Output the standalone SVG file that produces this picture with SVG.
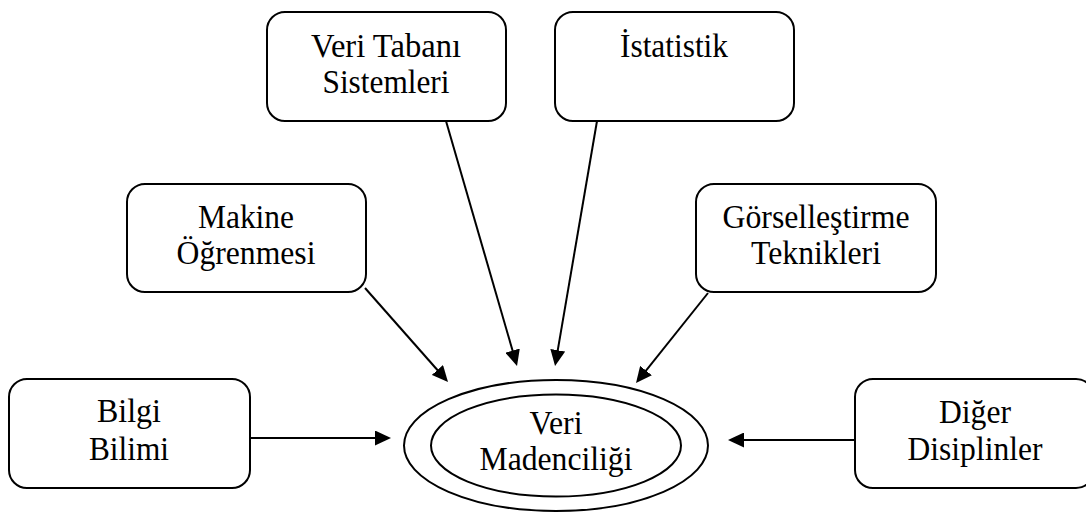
<svg xmlns="http://www.w3.org/2000/svg" width="1086" height="514" viewBox="0 0 1086 514">
  <style>
    .box { fill: #ffffff; stroke: #000000; stroke-width: 2; }
    .ell { fill: none; stroke: #000000; stroke-width: 2; }
    .lbl { font-family: "Liberation Serif", "Times New Roman", serif; font-size: 33px; fill: #000000; text-anchor: middle; }
    .conn { stroke: #000000; stroke-width: 2; fill: none; marker-end: url(#arrow); }
  </style>
  <defs>
    <marker id="arrow" markerUnits="userSpaceOnUse" markerWidth="17" markerHeight="15" refX="8" refY="7.5" orient="auto">
      <path d="M0,0 L16,7.5 L0,15 z" fill="#000000"/>
    </marker>
  </defs>
  <rect width="1086" height="514" fill="#ffffff"/>

  <g id="connectors">
    <line class="conn" x1="250" y1="438" x2="383" y2="438"/>
    <line class="conn" x1="855" y1="440" x2="736" y2="440"/>
    <line class="conn" x1="365" y1="288" x2="442.7" y2="376"/>
    <line class="conn" x1="446" y1="121" x2="514.8" y2="358.3"/>
    <line class="conn" x1="597" y1="121" x2="556.4" y2="358.1"/>
    <line class="conn" x1="708" y1="293" x2="641" y2="376.8"/>
  </g>

  <g id="veri-tabani">
    <rect class="box" x="267" y="12" width="239" height="109" rx="18"/>
    <text class="lbl" x="386" y="57" textLength="150" lengthAdjust="spacingAndGlyphs">Veri Tabanı</text>
    <text class="lbl" x="386" y="93" textLength="127" lengthAdjust="spacingAndGlyphs">Sistemleri</text>
  </g>
  <g id="istatistik">
    <rect class="box" x="555" y="12" width="239" height="109" rx="18"/>
    <text class="lbl" x="674" y="57" textLength="108" lengthAdjust="spacingAndGlyphs">İstatistik</text>
  </g>
  <g id="makine">
    <rect class="box" x="127" y="184" width="239" height="108" rx="18"/>
    <text class="lbl" x="246" y="228" textLength="96" lengthAdjust="spacingAndGlyphs">Makine</text>
    <text class="lbl" x="246" y="264" textLength="139" lengthAdjust="spacingAndGlyphs">Öğrenmesi</text>
  </g>
  <g id="gorsellestirme">
    <rect class="box" x="696" y="184" width="240" height="108" rx="18"/>
    <text class="lbl" x="816" y="228" textLength="187" lengthAdjust="spacingAndGlyphs">Görselleştirme</text>
    <text class="lbl" x="816" y="264" textLength="130" lengthAdjust="spacingAndGlyphs">Teknikleri</text>
  </g>
  <g id="bilgi">
    <rect class="box" x="9" y="379" width="241" height="109" rx="18"/>
    <text class="lbl" x="129" y="422" textLength="64" lengthAdjust="spacingAndGlyphs">Bilgi</text>
    <text class="lbl" x="129" y="460" textLength="80" lengthAdjust="spacingAndGlyphs">Bilimi</text>
  </g>
  <g id="diger">
    <rect class="box" x="855" y="379" width="239" height="109" rx="18"/>
    <text class="lbl" x="975" y="423" textLength="72" lengthAdjust="spacingAndGlyphs">Diğer</text>
    <text class="lbl" x="975" y="460" textLength="135" lengthAdjust="spacingAndGlyphs">Disiplinler</text>
  </g>
  <g id="veri-madenciligi">
    <ellipse class="ell" cx="556" cy="445.5" rx="152" ry="65.5"/>
    <ellipse class="ell" cx="556" cy="445.5" rx="125" ry="51"/>
    <text class="lbl" x="556" y="434" textLength="53" lengthAdjust="spacingAndGlyphs">Veri</text>
    <text class="lbl" x="556" y="470" textLength="153" lengthAdjust="spacingAndGlyphs">Madenciliği</text>
  </g>
</svg>
